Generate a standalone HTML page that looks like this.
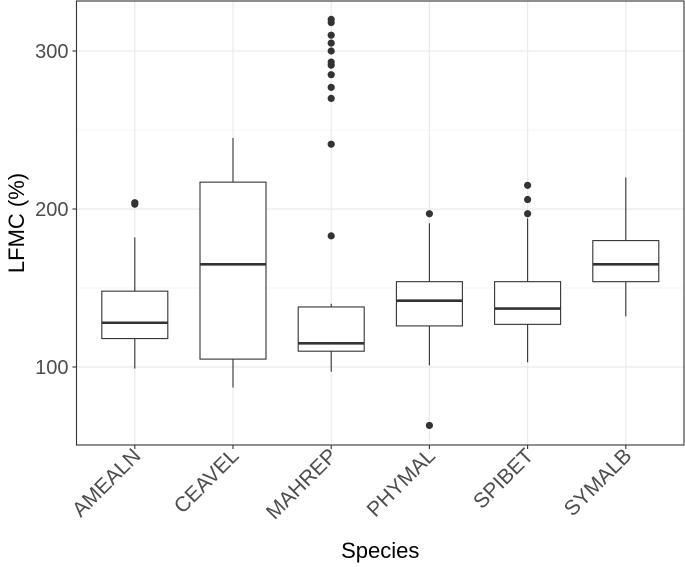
<!DOCTYPE html>
<html><head><meta charset="utf-8"><style>body{margin:0;background:#fff}svg{display:block;font-family:"Liberation Sans",sans-serif}</style></head>
<body>
<svg id="c" width="685" height="567"></svg>
<script>
const categories=["AMEALN","CEAVEL","MAHREP","PHYMAL","SPIBET","SYMALB"];
const lowWhisker=[99,87,97,101,103,132];
const q1=[118,105,110,126,127,154];
const medians=[128,165,115,142,137,165];
const q3=[148,217,138,154,154,180];
const highWhisker=[182,245,140,191,194,220];
const outliers=[[203,204],[],[183,241,270,277,285,291,293,300,305,310,318,320],[197,63],[197,206,215],[]];
const yTicks=[100,200,300];
const yMinor=[150,250];
const NS="http://www.w3.org/2000/svg";
const svg=document.getElementById("c");
const L=76.5,R=684,T=1,B=445;
const y=v=>367-(v-100)*1.58;
const x=i=>134.8+i*98.2;
function mk(t,a,p){const e=document.createElementNS(NS,t);for(const k in a)e.setAttribute(k,a[k]);(p||svg).appendChild(e);return e;}
yMinor.forEach(v=>{const l=mk("line",{x1:L,x2:R,y1:y(v),y2:y(v),stroke:"#ebebeb","stroke-width":0.6});

});
yTicks.forEach(v=>{const l=mk("line",{x1:L,x2:R,y1:y(v),y2:y(v),stroke:"#ebebeb","stroke-width":1.2});


const tk=mk("line",{x1:L-4,x2:L,y1:y(v),y2:y(v),stroke:"#333","stroke-width":1.1});


const t=mk("text",{x:L-8,y:y(v)+7,"text-anchor":"end","font-size":20,fill:"#4d4d4d"});t.textContent=v;

});
categories.forEach((c,i)=>{const g=mk("line",{x1:x(i),x2:x(i),y1:T,y2:B,stroke:"#ebebeb","stroke-width":1.2});

});
const bw=66;
categories.forEach((c,i)=>{const g=mk("g",{});


mk("line",{x1:x(i),x2:x(i),y1:y(q3[i]),y2:y(highWhisker[i]),stroke:"#333","stroke-width":1.1},g);
mk("line",{x1:x(i),x2:x(i),y1:y(q1[i]),y2:y(lowWhisker[i]),stroke:"#333","stroke-width":1.1},g);
mk("rect",{x:x(i)-bw/2,y:y(q3[i]),width:bw,height:y(q1[i])-y(q3[i]),fill:"#fff",stroke:"#333","stroke-width":1.1},g);
mk("line",{x1:x(i)-bw/2,x2:x(i)+bw/2,y1:y(medians[i]),y2:y(medians[i]),stroke:"#333","stroke-width":2.6},g);
outliers[i].forEach(v=>{const p=mk("circle",{cx:x(i),cy:y(v),r:3.6,fill:"#333"},g);

});
const tk=mk("line",{x1:x(i),x2:x(i),y1:B,y2:B+4,stroke:"#333","stroke-width":1.1});


const t=mk("text",{transform:`translate(${x(i)+7},${B+12}) rotate(-45)`,"text-anchor":"end","font-size":21,fill:"#4d4d4d"});t.textContent=c;

});
const fr=mk("rect",{x:L,y:T,width:R-L,height:B-T,fill:"none",stroke:"#333","stroke-width":1.1});


const xt=mk("text",{x:(L+R)/2,y:558,"text-anchor":"middle","font-size":22,fill:"#000"});xt.textContent="Species";


const yt=mk("text",{transform:`translate(24,${(T+B)/2}) rotate(-90)`,"text-anchor":"middle","font-size":22,fill:"#000"});yt.textContent="LFMC (%)";


</script>
</body></html>
